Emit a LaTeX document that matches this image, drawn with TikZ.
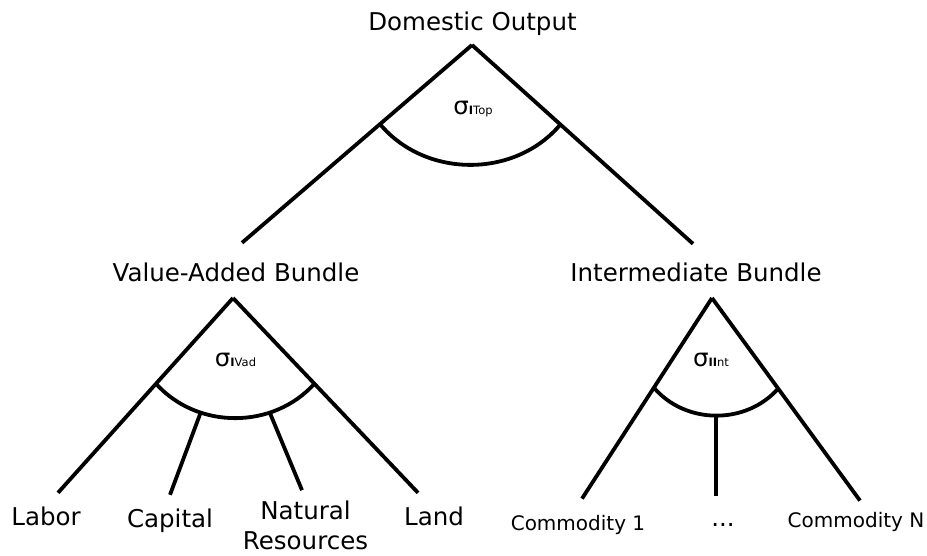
\documentclass[tikz,border=0pt]{standalone}
\usepackage{fontspec}
\setmainfont{DejaVu Sans}
\usetikzlibrary{calc}
\tikzset{
	lbl/.style={inner sep=0pt,anchor=base,font=\fontsize{24.5}{30.5}\selectfont},
	smalllbl/.style={inner sep=0pt,anchor=base,font=\fontsize{20}{24}\selectfont},
	branch/.style={line width=3.8pt},
}
\newcommand{\sig}[1]{σ{\fontsize{11.5}{13}\selectfont #1}}
\begin{document}
\begin{tikzpicture}[x=1pt,y=1pt]
	\useasboundingbox (0,0) rectangle (927,555);
	% labels
	\node[lbl] (dom) at (472.5,524) {Domestic Output};
	\node[lbl] (va) at (236,273) {Value-Added Bundle};
	\node[lbl] (ib) at (696,273) {Intermediate Bundle};
	\node[lbl] (labor) at (46,30) {Labor};
	\node[lbl] (capital) at (170,28) {Capital};
	\node[lbl,anchor=north,align=center] (natres) at (305.5,54.8) {Natural\\Resources};
	\node[lbl] (land) at (434,30) {Land};
	\node[smalllbl] (com1) at (578,25) {Commodity 1};
	\node[lbl] (dots) at (723,29) {...};
	\node[smalllbl] (comN) at (856,28) {Commodity N};
	% elasticities
	\node[lbl] (stop) at (473,440) {\sig{\textbf{I}Top}};
	\node[lbl] (svad) at (235.5,188) {\sig{\textbf{I}Vad}};
	\node[lbl] (sint) at (711,188) {\sig{\textbf{II}nt}};
	% top nest
	\coordinate (dtip) at (472,510);
	\coordinate (vtip) at (233,257);
	\coordinate (itip) at (712,257);
	\draw[branch] (dtip) -- ([shift={(6,20.4)}]va.north) coordinate (vaend);
	\draw[branch] (dtip) -- ([shift={(-3,19.4)}]ib.north) coordinate (ibend);
	\draw[branch] ($(dtip)!0.4!(vaend)$) to[bend right=50] ($(dtip)!0.4!(ibend)$);
	% value added nest
	\draw[branch] (vtip) -- ([shift={(12,13.4)}]labor.north) coordinate (laborend);
	\draw[branch] (vtip) -- ([shift={(-16,13.4)}]land.north) coordinate (landend);
	\draw[branch] ($(vtip)!0.44!(laborend)$) to[bend right=48]
		coordinate[pos=0.3] (vaA) coordinate[pos=0.7] (vaB) ($(vtip)!0.44!(landend)$);
	\draw[branch] (vaA) -- ([shift={(0,13.4)}]capital.north);
	\draw[branch] (vaB) -- ([shift={(-3.5,10)}]natres.north);
	% intermediate nest
	\draw[branch] (itip) -- ([shift={(4,16)}]com1.north) coordinate (com1end);
	\draw[branch] (itip) -- ([shift={(4,11)}]comN.north) coordinate (comNend);
	\draw[branch] ($(itip)!0.447!(com1end)$) to[bend right=49]
		coordinate[pos=0.5] (ibmid) ($(itip)!0.447!(comNend)$);
	\draw[branch] (ibmid) -- ([yshift=-80]ibmid);
\end{tikzpicture}
\end{document}
